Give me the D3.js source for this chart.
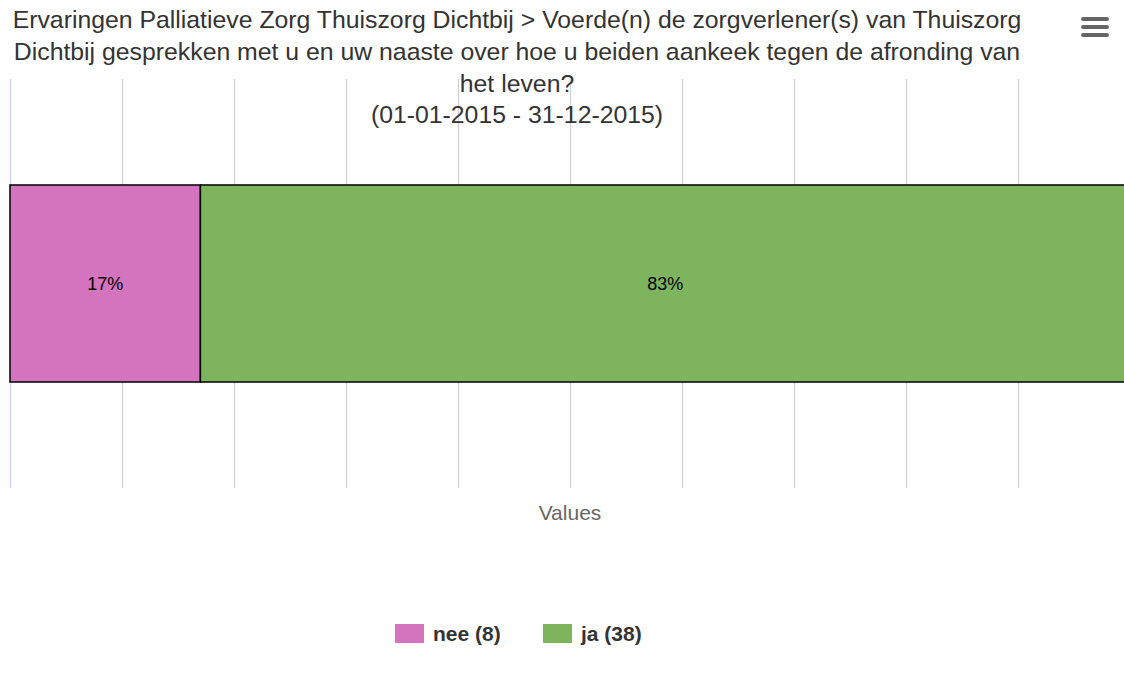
<!DOCTYPE html>
<html>
<head>
<meta charset="utf-8">
<script src="https://cdn.jsdelivr.net/npm/d3@7"></script>
<style>
  body { margin: 0; background: #fff; }
  svg { display: block; font-family: "Liberation Sans", Arial, sans-serif; }
</style>
</head>
<body>
<div id="chart"></div>
<script>
// data
var categories = ["nee", "ja"];
var counts = [8, 38];
var percents = [17, 83];
var colors = ["#d473be", "#7fb45e"];

var titleLines = [
  "Ervaringen Palliatieve Zorg Thuiszorg Dichtbij > Voerde(n) de zorgverlener(s) van Thuiszorg",
  "Dichtbij gesprekken met u en uw naaste over hoe u beiden aankeek tegen de afronding van",
  "het leven?"
];
var subtitle = "(01-01-2015 - 31-12-2015)";
var tickValues = [0, 10, 20, 30, 40, 50, 60, 70, 80, 90, 100];

var width = 1124, height = 676;
var plot = { left: 10, right: 1130, top: 79, bottom: 488 };

var svg = d3.select("#chart").append("svg")
  .attr("width", width)
  .attr("height", height);

var x = d3.scaleLinear()
  .domain([0, 100])
  .range([plot.left, plot.right]);

var y = d3.scaleBand()
  .domain(["Values"])
  .range([plot.top, plot.bottom])
  .paddingInner(0)
  .paddingOuter(0.538);

// grid lines
svg.append("g")
  .selectAll("line")
  .data(tickValues.slice(1))
  .enter().append("line")
  .attr("x1", function(d) { return x(d) + 0.5; })
  .attr("x2", function(d) { return x(d) + 0.5; })
  .attr("y1", plot.top)
  .attr("y2", plot.bottom)
  .attr("stroke", "#d0d0d0")
  .attr("stroke-width", 1.2);

// left axis line
svg.append("line")
  .attr("x1", plot.left + 0.5).attr("x2", plot.left + 0.5)
  .attr("y1", plot.top).attr("y2", plot.bottom)
  .attr("stroke", "#ccd6eb")
  .attr("stroke-width", 1.5);

// stacked bar
var stackStart = percents.map(function(p, i) {
  return d3.sum(percents.slice(0, i));
});

var segs = svg.append("g").selectAll("g")
  .data(percents)
  .enter().append("g");

segs.append("rect")
  .attr("x", function(d, i) { return x(stackStart[i]); })
  .attr("y", y("Values"))
  .attr("width", function(d, i) { return x(stackStart[i] + d) - x(stackStart[i]); })
  .attr("height", y.bandwidth())
  .attr("fill", function(d, i) { return colors[i]; })
  .attr("stroke", "#000")
  .attr("stroke-width", 1.5);

segs.append("text")
  .attr("x", function(d, i) { return x(stackStart[i] + d / 2); })
  .attr("y", y("Values") + y.bandwidth() / 2)
  .attr("dy", "0.35em")
  .attr("text-anchor", "middle")
  .attr("font-size", "18px")
  .attr("fill", "#000")
  .text(function(d) { return d + "%"; });

// title
svg.append("g").selectAll("text")
  .data(titleLines)
  .enter().append("text")
  .attr("x", 517)
  .attr("y", function(d, i) { return 28 + i * 32; })
  .attr("text-anchor", "middle")
  .attr("font-size", "24.8px")
  .attr("fill", "#333333")
  .text(function(d) { return d; });

svg.append("text")
  .attr("x", 517)
  .attr("y", 123)
  .attr("text-anchor", "middle")
  .attr("font-size", "24.8px")
  .attr("fill", "#333333")
  .text(subtitle);

// axis title
svg.append("text")
  .attr("x", (plot.left + plot.right) / 2)
  .attr("y", 520)
  .attr("text-anchor", "middle")
  .attr("font-size", "21px")
  .attr("fill", "#666666")
  .text("Values");

// legend
var legendX = [395, 543];
var legend = svg.append("g").selectAll("g")
  .data(categories)
  .enter().append("g")
  .attr("transform", function(d, i) { return "translate(" + legendX[i] + ",624)"; });

legend.append("rect")
  .attr("width", 29)
  .attr("height", 19)
  .attr("fill", function(d, i) { return colors[i]; });

legend.append("text")
  .attr("x", 38)
  .attr("y", 17)
  .attr("font-size", "21px")
  .attr("font-weight", "bold")
  .attr("fill", "#333333")
  .text(function(d, i) { return d + " (" + counts[i] + ")"; });

// menu button
svg.append("g")
  .selectAll("line")
  .data([19, 27, 35])
  .enter().append("line")
  .attr("x1", 1083).attr("x2", 1107)
  .attr("y1", function(d) { return d; })
  .attr("y2", function(d) { return d; })
  .attr("stroke", "#666666")
  .attr("stroke-width", 4)
  .attr("stroke-linecap", "round");
</script>
</body>
</html>
